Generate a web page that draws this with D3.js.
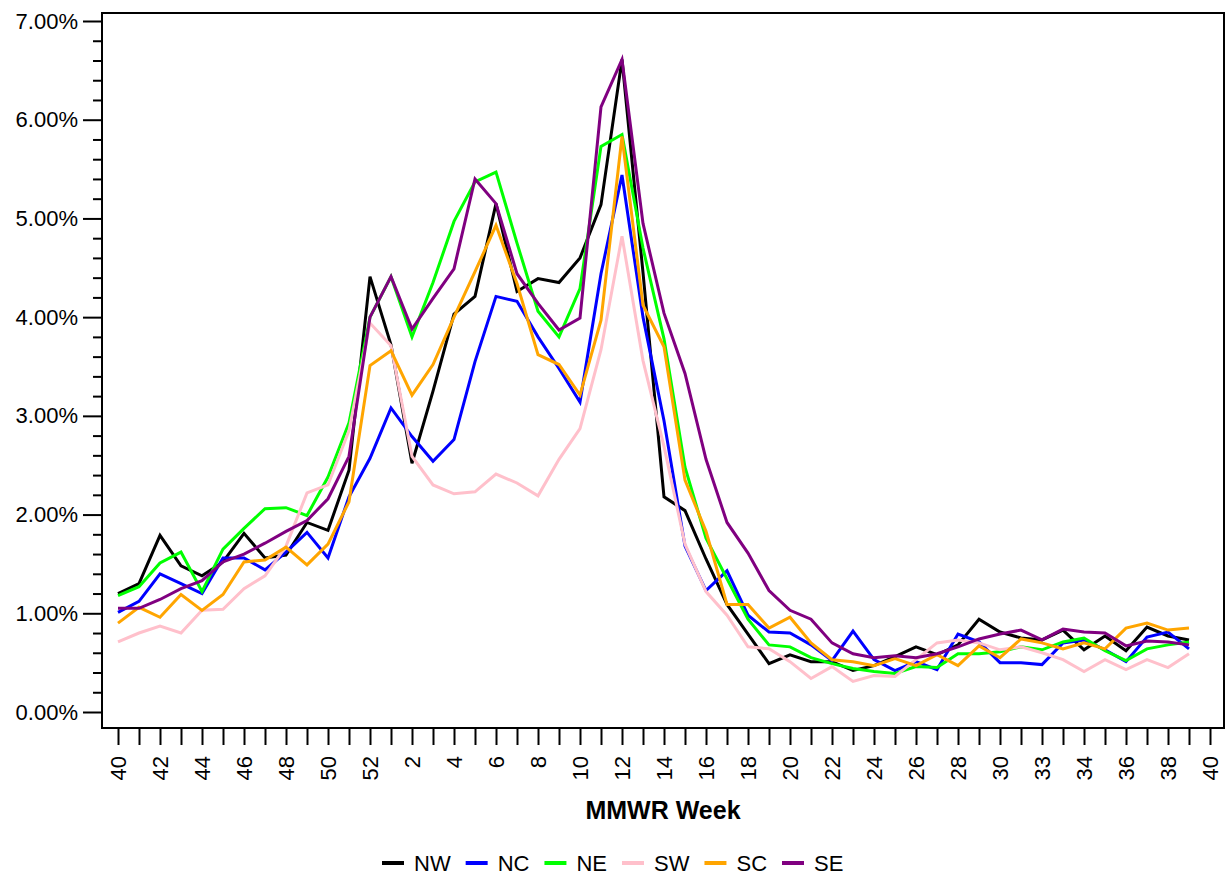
<!DOCTYPE html>
<html>
<head>
<meta charset="utf-8">
<script src="https://cdn.jsdelivr.net/npm/d3@7"></script>
<style>
    body { margin: 0; background: #fff; }
    svg { display: block; font-family: 'Liberation Sans', Arial, sans-serif; }
    .axes text { font-size: 22px; fill: #000; }
    .axes path { display: none; }
    .axes line { stroke: #000; stroke-width: 2px; }
    .line { fill: none; stroke-width: 3px; stroke-linejoin: miter; }
</style>
</head>
<body>
<script>
const W = 1231, H = 878;
const frame = { left: 102, top: 13, right: 1224, bottom: 728 };

// MMWR weeks of the season, 40 .. 52 then 1 .. 39
const weeks = [40, 41, 42, 43, 44, 45, 46, 47, 48, 49, 50, 51, 52,
    1, 2, 3, 4, 5, 6, 7, 8, 9, 10, 11, 12, 13, 14, 15, 16, 17, 18, 19, 20,
    21, 22, 23, 24, 25, 26, 27, 28, 29, 30, 31, 32, 33, 34, 35, 36, 37, 38, 39];

// tick labels as printed under the axis (every other tick)
const tickLabels = ['40', '42', '44', '46', '48', '50', '52', '2', '4', '6', '8', '10', '12',
    '14', '16', '18', '20', '22', '24', '26', '28', '30', '33', '34', '36', '38', '40'];

const regions = ['NW', 'NC', 'NE', 'SW', 'SC', 'SE'];
const colors = ['#000000', '#0000ff', '#00ff00', '#ffc0cb', '#ffa500', '#800080'];

// percent positive by region
const NW = [1.20, 1.30, 1.79, 1.48, 1.38, 1.52, 1.81, 1.56, 1.59, 1.92, 1.84, 2.45, 4.41,
    3.72, 2.52, 3.25, 4.03, 4.21, 5.15, 4.26, 4.39, 4.35, 4.60, 5.14, 6.61, 4.45, 2.18,
    2.04, 1.55, 1.09, 0.79, 0.49, 0.58, 0.51, 0.51, 0.42, 0.47, 0.56, 0.66, 0.58, 0.68,
    0.94, 0.81, 0.75, 0.73, 0.83, 0.63, 0.77, 0.62, 0.86, 0.77, 0.73];
const NC = [1.01, 1.12, 1.40, 1.30, 1.20, 1.56, 1.56, 1.44, 1.62, 1.82, 1.56, 2.18, 2.57,
    3.08, 2.79, 2.54, 2.76, 3.55, 4.21, 4.16, 3.80, 3.48, 3.14, 4.44, 5.44, 4.00, 2.95,
    1.68, 1.23, 1.43, 0.98, 0.81, 0.80, 0.68, 0.52, 0.82, 0.53, 0.42, 0.51, 0.43, 0.79,
    0.71, 0.50, 0.50, 0.48, 0.70, 0.73, 0.63, 0.51, 0.76, 0.81, 0.64];
const NE = [1.18, 1.27, 1.51, 1.62, 1.22, 1.65, 1.86, 2.06, 2.07, 1.99, 2.38, 2.93, 4.00,
    4.41, 3.80, 4.35, 4.97, 5.37, 5.47, 4.75, 4.06, 3.80, 4.29, 5.73, 5.85, 4.70, 3.78,
    2.48, 1.76, 1.35, 0.94, 0.68, 0.66, 0.55, 0.49, 0.44, 0.41, 0.39, 0.46, 0.45, 0.59,
    0.59, 0.61, 0.66, 0.63, 0.71, 0.75, 0.62, 0.52, 0.64, 0.68, 0.71];
const SW = [0.71, 0.80, 0.87, 0.80, 1.03, 1.04, 1.25, 1.38, 1.68, 2.22, 2.30, 2.85, 3.94,
    3.71, 2.59, 2.30, 2.21, 2.23, 2.41, 2.32, 2.19, 2.56, 2.87, 3.67, 4.82, 3.56, 2.69,
    1.70, 1.22, 0.98, 0.66, 0.64, 0.51, 0.34, 0.46, 0.31, 0.37, 0.36, 0.53, 0.70, 0.73,
    0.70, 0.63, 0.66, 0.60, 0.53, 0.41, 0.53, 0.43, 0.53, 0.45, 0.59];
const SC = [0.90, 1.06, 0.96, 1.19, 1.03, 1.19, 1.52, 1.54, 1.67, 1.49, 1.70, 2.13, 3.51,
    3.66, 3.21, 3.52, 4.00, 4.46, 4.93, 4.34, 3.62, 3.52, 3.21, 3.97, 5.83, 4.12, 3.70,
    2.35, 1.83, 1.09, 1.09, 0.85, 0.96, 0.70, 0.53, 0.51, 0.47, 0.54, 0.47, 0.58, 0.47,
    0.67, 0.55, 0.74, 0.70, 0.64, 0.70, 0.64, 0.85, 0.90, 0.83, 0.85];
const SE = [1.05, 1.05, 1.14, 1.25, 1.33, 1.52, 1.60, 1.71, 1.83, 1.94, 2.16, 2.59, 4.00,
    4.41, 3.88, 4.19, 4.49, 5.40, 5.15, 4.44, 4.14, 3.87, 3.99, 6.13, 6.61, 4.95, 4.04,
    3.43, 2.56, 1.92, 1.61, 1.23, 1.03, 0.94, 0.70, 0.59, 0.55, 0.57, 0.55, 0.59, 0.66,
    0.74, 0.79, 0.83, 0.73, 0.84, 0.81, 0.80, 0.67, 0.72, 0.71, 0.68];

const yMajor = [0, 1, 2, 3, 4, 5, 6, 7];

const series = [NW, NC, NE, SW, SC, SE].map((values, k) => {
    return { region: regions[k], color: colors[k], values: values };
});

// scales: one step per week, the axis runs one week past the data
const xScale = d3.scaleLinear()
    .domain([0, weeks.length])
    .range([118, 1210]);
const yScale = d3.scaleLinear()
    .domain([0, 7])
    .range([712, 21]);

const svg = d3.select('body').append('svg')
    .attr('width', W)
    .attr('height', H);

// y axis, majors with labels and minors every 0.2%
const yMinor = d3.range(0, 7.01, 0.2).filter(v => Math.abs(v - Math.round(v)) > 1e-6);
svg.append('g')
    .attr('class', 'axes')
    .attr('transform', 'translate(' + frame.left + ',0)')
    .call(d3.axisLeft(yScale).tickValues(yMinor).tickSize(9).tickFormat(''));
svg.append('g')
    .attr('class', 'axes')
    .attr('transform', 'translate(' + frame.left + ',0)')
    .call(d3.axisLeft(yScale).tickValues(yMajor).tickSize(19).tickPadding(5)
        .tickFormat(d => d.toFixed(2) + '%'));

// x axis, a tick every week, a label every other week
const xAxis = svg.append('g')
    .attr('class', 'axes')
    .attr('transform', 'translate(0,' + frame.bottom + ')')
    .call(d3.axisBottom(xScale).tickValues(d3.range(0, weeks.length + 1)).tickSize(17)
        .tickFormat(i => i % 2 === 0 ? tickLabels[i / 2] : ''));
xAxis.selectAll('text')
    .attr('transform', 'rotate(-90)')
    .attr('x', -28)
    .attr('y', 0)
    .attr('dy', '0.36em')
    .style('text-anchor', 'end');

// frame
svg.append('rect')
    .attr('x', frame.left)
    .attr('y', frame.top)
    .attr('width', frame.right - frame.left)
    .attr('height', frame.bottom - frame.top)
    .attr('fill', 'none')
    .attr('stroke', '#000')
    .attr('stroke-width', 2);

// x label
svg.append('text')
    .attr('x', (frame.left + frame.right) / 2)
    .attr('y', 819)
    .style('text-anchor', 'middle')
    .style('font-weight', 'bold')
    .style('font-size', '25px')
    .text('MMWR Week');

// lines
const line = d3.line()
    .x((d, i) => xScale(i))
    .y(d => yScale(d));

svg.selectAll('.region')
    .data(series)
    .enter().append('path')
    .attr('class', 'line region')
    .attr('d', d => line(d.values))
    .style('stroke', d => d.color);

// legend
const legend = svg.append('g')
    .attr('class', 'legend')
    .attr('transform', 'translate(382,863)');
let lx = 0;
series.forEach(d => {
    legend.append('line')
        .attr('x1', lx).attr('x2', lx + 22)
        .attr('y1', 0).attr('y2', 0)
        .attr('stroke', d.color)
        .attr('stroke-width', 4);
    const t = legend.append('text')
        .attr('x', lx + 32)
        .attr('y', 8)
        .style('font-size', '22px')
        .text(d.region);
    lx += 32 + t.node().getComputedTextLength() + 15;
});
</script>
</body>
</html>
